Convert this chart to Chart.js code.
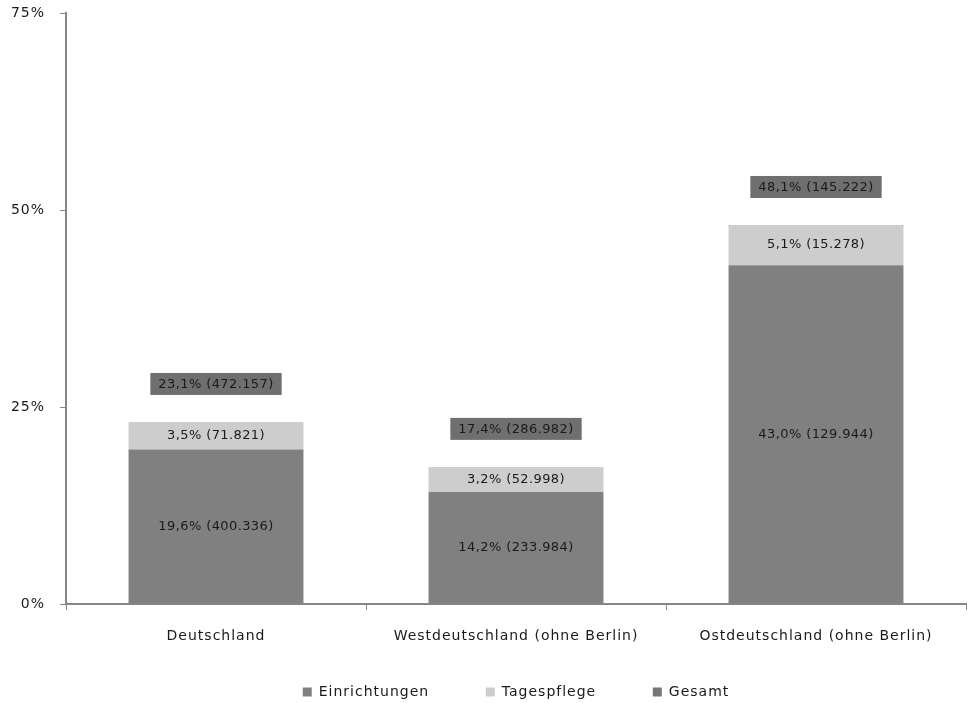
<!DOCTYPE html>
<html>
<head>
<meta charset="utf-8">
<script src="https://cdn.jsdelivr.net/npm/chart.js@4/dist/chart.umd.min.js"></script>
<style>
  html, body { margin: 0; padding: 0; background: #fff; }
  #wrap { width: 968px; height: 703px; }
</style>
</head>
<body>
<div id="wrap"><canvas id="chart" width="968" height="703"></canvas></div>
<script>
'use strict';

const categories = ['Deutschland', 'Westdeutschland (ohne Berlin)', 'Ostdeutschland (ohne Berlin)'];
const einrichtungenPct = [19.6, 14.2, 43.0];
const einrichtungenCount = [400336, 233984, 129944];
const tagespflegePct = [3.5, 3.2, 5.1];
const tagespflegeCount = [71821, 52998, 15278];
const gesamtPct = [23.1, 17.4, 48.1];
const gesamtCount = [472157, 286982, 145222];
const yTicks = [0, 25, 50, 75];

const FONT = '"DejaVu Sans", Verdana, sans-serif';
const GAP = '        '; // wide gaps between legend entries

// German style number formatting: 3,5 and 472.157
function fmtPct(v) {
    return v.toFixed(1).replace('.', ',') + '%';
}
function fmtCount(n) {
    return String(n).replace(/\B(?=(\d{3})+(?!\d))/g, '.');
}
function label(pct, count) {
    return fmtPct(pct) + ' (' + fmtCount(count) + ')';
}

// Verdana-like wide spacing for axis and legend text
const spacingPlugin = {
    id: 'spacing',
    beforeUpdate(chart) { chart.ctx.letterSpacing = '1px'; },
    beforeDraw(chart) { chart.ctx.letterSpacing = '1px'; }
};

const labelPlugin = {
    id: 'barLabels',
    afterDatasetsDraw(chart) {
        const ctx = chart.ctx;
        ctx.save();
        ctx.font = '13px ' + FONT;
        ctx.letterSpacing = '0.4px';
        ctx.textAlign = 'center';
        ctx.textBaseline = 'middle';

        const inner = [[einrichtungenPct, einrichtungenCount], [tagespflegePct, tagespflegeCount]];
        inner.forEach((src, di) => {
            chart.getDatasetMeta(di).data.forEach((bar, i) => {
                ctx.fillStyle = '#1a1a1a';
                ctx.fillText(label(src[0][i], src[1][i]), bar.x, (bar.y + bar.base) / 2);
            });
        });

        chart.getDatasetMeta(2).data.forEach((pt, i) => {
            const txt = label(gesamtPct[i], gesamtCount[i]);
            const w = ctx.measureText(txt).width + 16;
            const h = 22;
            const cy = pt.y - 38;
            ctx.fillStyle = '#6f6f6f';
            ctx.fillRect(pt.x - w / 2, cy - h / 2, w, h);
            ctx.fillStyle = '#1a1a1a';
            ctx.fillText(txt, pt.x, cy + 1);
        });
        ctx.restore();
    }
};

new Chart(document.getElementById('chart'), {
    type: 'bar',
    data: {
        labels: categories,
        datasets: [{
            label: 'Einrichtungen',
            data: einrichtungenPct,
            backgroundColor: '#808080',
            stack: 's',
            barPercentage: 0.583,
            categoryPercentage: 1.0,
            order: 2
        }, {
            label: 'Tagespflege',
            data: tagespflegePct,
            backgroundColor: '#cdcdcd',
            stack: 's',
            barPercentage: 0.583,
            categoryPercentage: 1.0,
            order: 2
        }, {
            type: 'line',
            label: 'Gesamt',
            data: gesamtPct,
            backgroundColor: '#777777',
            borderColor: '#777777',
            borderWidth: 0,
            showLine: false,
            pointRadius: 0,
            order: 1
        }]
    },
    options: {
        responsive: false,
        animation: false,
        layout: { padding: { top: 0, right: 2, left: 0, bottom: -6 } },
        plugins: {
            legend: {
                position: 'bottom',
                fullSize: false,
                labels: {
                    font: { family: FONT, size: 14 },
                    color: '#1a1a1a',
                    boxWidth: 9,
                    boxHeight: 9,
                    padding: 13,
                    sort: (a, b) => a.datasetIndex - b.datasetIndex,
                    generateLabels: chart => {
                        const items = Chart.defaults.plugins.legend.labels.generateLabels(chart);
                        items.forEach(it => {
                            if (it.datasetIndex < 2) it.text += GAP;
                        });
                        return items;
                    }
                }
            },
            tooltip: { enabled: false }
        },
        scales: {
            x: {
                stacked: true,
                afterFit: scale => { scale.height = 68; },
                grid: {
                    offset: true,
                    drawOnChartArea: false,
                    drawTicks: true,
                    tickLength: 6,
                    color: '#868686'
                },
                border: { color: '#868686', width: 2 },
                ticks: {
                    font: { family: FONT, size: 14 },
                    color: '#1a1a1a',
                    padding: 18,
                    maxRotation: 0
                }
            },
            y: {
                stacked: true,
                min: 0,
                max: 75,
                afterFit: scale => {
                    scale.width = 66;
                    scale.paddingTop = 13;
                },
                afterBuildTicks: axis => {
                    axis.ticks = yTicks.map(v => ({ value: v }));
                },
                grid: {
                    drawOnChartArea: false,
                    drawTicks: true,
                    tickLength: 6,
                    color: '#868686'
                },
                border: { color: '#868686', width: 2 },
                ticks: {
                    font: { family: FONT, size: 14 },
                    color: '#1a1a1a',
                    padding: 15,
                    callback: v => v + '%'
                }
            }
        }
    },
    plugins: [spacingPlugin, labelPlugin]
});
</script>
</body>
</html>
